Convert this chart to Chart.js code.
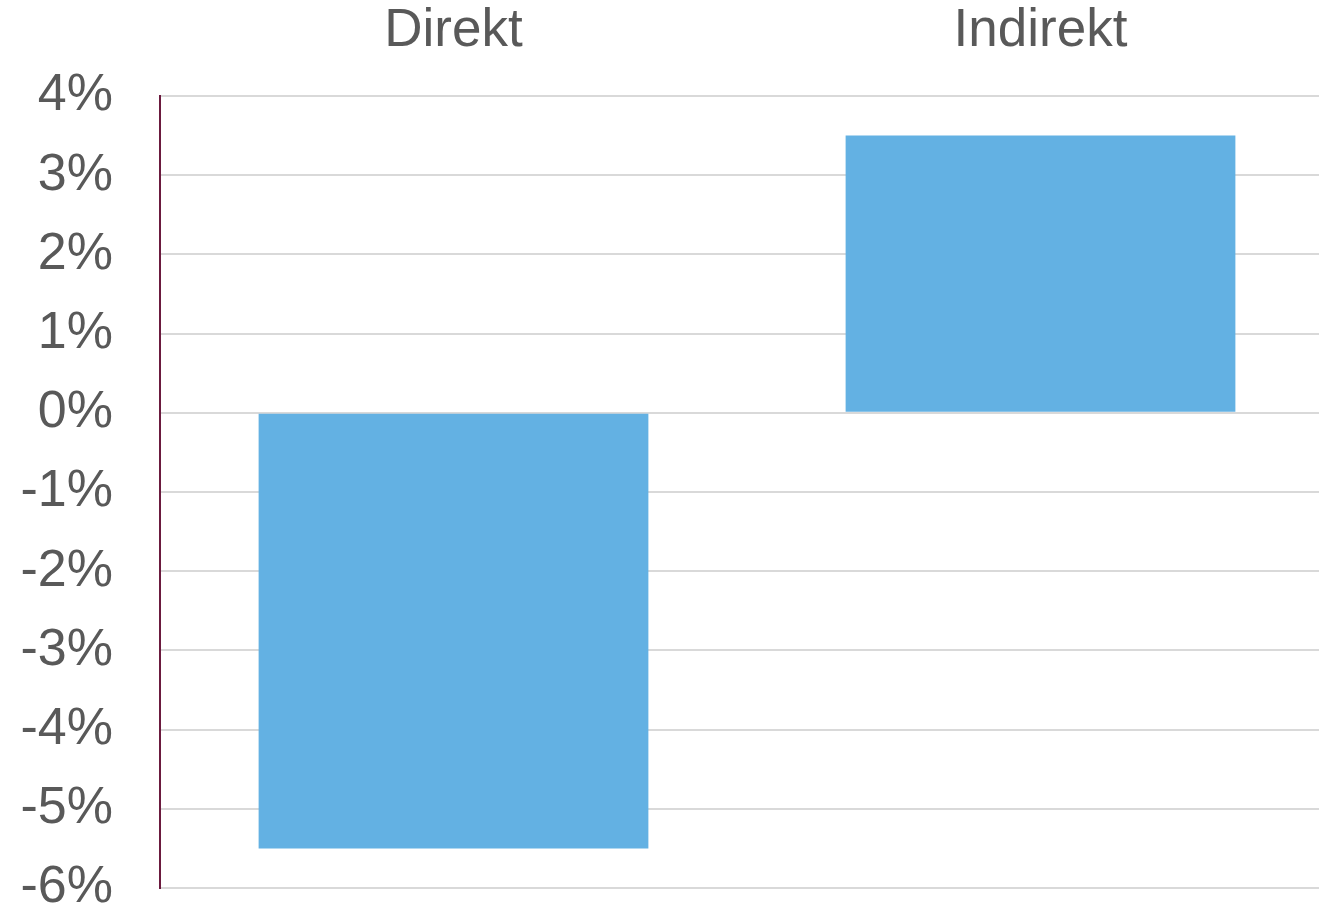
<!DOCTYPE html>
<html>
<head>
<meta charset="utf-8">
<script src="https://cdn.jsdelivr.net/npm/chart.js@4/dist/chart.umd.min.js"></script>
<style>
  html, body { margin: 0; padding: 0; background: #fff; overflow: hidden; }
  #wrap { width: 1334px; height: 911px; }
</style>
</head>
<body>
<div id="wrap"><canvas id="effectChart"></canvas></div>
<script>
var categories = ['Direkt', 'Indirekt']
var effectValues = [-5.5, 3.5]
var yMin = -6
var yMax = 4

var ctx = document.getElementById('effectChart')

var effectChart = new Chart(ctx, {
    type: 'bar',
    data: {
        labels: categories,
        datasets: [{
            label: 'Effekt',
            data: effectValues,
            backgroundColor: '#63b1e3',
            borderWidth: 0,
            categoryPercentage: 1,
            barPercentage: 0.664
        }]
    },
    options: {
        responsive: true,
        maintainAspectRatio: false,
        animation: false,
        layout: {
            padding: { left: 0, right: 0, top: 0, bottom: 23 }
        },
        plugins: {
            legend: { display: false },
            tooltip: { enabled: false }
        },
        scales: {
            x: {
                position: 'top',
                grid: { display: false },
                border: { display: false },
                ticks: {
                    color: '#595959',
                    padding: 25,
                    font: { family: 'Liberation Sans, Arial', size: 53 }
                },
                afterFit: function (scale) {
                    scale.height = 96
                    scale.paddingLeft = 0
                    scale.paddingRight = 0
                }
            },
            y: {
                min: yMin,
                max: yMax,
                grid: {
                    color: '#d9d9d9',
                    lineWidth: 2,
                    drawTicks: false
                },
                border: { color: '#6b1a3e', width: 2 },
                ticks: {
                    stepSize: 1,
                    color: '#595959',
                    padding: 47,
                    font: { family: 'Liberation Sans, Arial', size: 52 },
                    callback: function (value) { return value + '%' }
                },
                afterFit: function (scale) {
                    scale.width = 160
                    scale.paddingTop = 0
                    scale.paddingBottom = 0
                }
            }
        }
    }
});
</script>
</body>
</html>
